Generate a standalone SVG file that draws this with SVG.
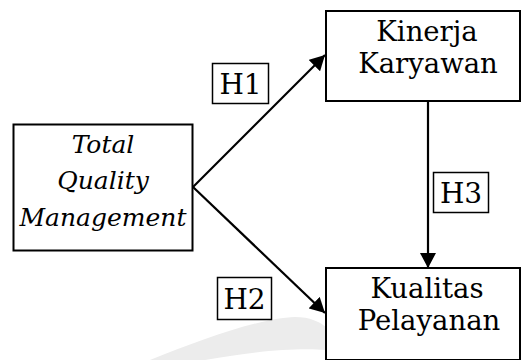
<svg xmlns="http://www.w3.org/2000/svg" width="521" height="360" viewBox="0 0 521 360">
<defs>
<style>
.box{fill:#fff;stroke:#000;stroke-width:2}
.lbl{fill:#fff;stroke:#000;stroke-width:1.5}
.t{font-family:"DejaVu Serif","Liberation Serif",serif;font-size:27.5px;fill:#000;text-anchor:middle}
.h{font-family:"DejaVu Serif","Liberation Serif",serif;font-size:28px;fill:#000;text-anchor:middle}
.ti{font-family:"DejaVu Serif","Liberation Serif",serif;font-style:italic;font-size:25px;fill:#000;text-anchor:middle}
.c{stroke:#000;stroke-width:2.2;fill:none}
</style>
<marker id="ah" viewBox="0 0 15 16" refX="15" refY="8" markerWidth="15" markerHeight="16" markerUnits="userSpaceOnUse" orient="auto">
<path d="M0,0 L15,8 L0,16 Z" fill="#000"/>
</marker>
</defs>
<rect width="521" height="360" fill="#fff"/>
<path d="M150,360 C200,340 260,318 295,317 C310,317 320,322 326,327 L326,350 C300,348 260,350 205,360 Z" fill="#ececec"/>
<g id="connectors">
<line class="c" x1="193" y1="187" x2="325" y2="55" marker-end="url(#ah)"/>
<line class="c" x1="193" y1="187" x2="325" y2="313" marker-end="url(#ah)"/>
<line class="c" x1="428" y1="101" x2="428" y2="268" marker-end="url(#ah)"/>
</g>
<g id="tqm">
<rect class="box" x="13.5" y="124.5" width="179" height="126"/>
<text class="ti" x="103" y="153">Total</text>
<text class="ti" x="103" y="189">Quality</text>
<text class="ti" x="103" y="226">Management</text>
</g>
<g id="kinerja">
<rect class="box" x="326" y="11" width="194" height="90"/>
<text class="t" x="427" y="41">Kinerja</text>
<text class="t" x="428" y="73">Karyawan</text>
</g>
<g id="kualitas">
<rect class="box" x="326" y="268" width="194" height="92"/>
<text class="t" x="427" y="298">Kualitas</text>
<text class="t" x="429" y="330">Pelayanan</text>
</g>
<g id="h1">
<rect class="lbl" x="212.5" y="63.5" width="56" height="40"/>
<text class="h" x="240.5" y="94">H1</text>
</g>
<g id="h2">
<rect class="lbl" x="217.5" y="277.5" width="54" height="42"/>
<text class="h" x="244.5" y="309">H2</text>
</g>
<g id="h3">
<rect class="lbl" x="433.5" y="172.5" width="55" height="40"/>
<text class="h" x="461" y="203">H3</text>
</g>
</svg>
